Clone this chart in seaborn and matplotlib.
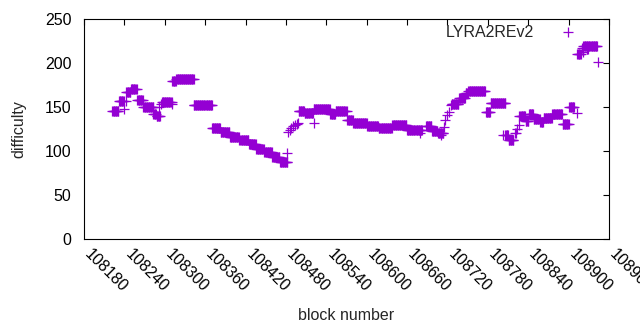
import numpy as np
import pandas as pd
import seaborn as sns
from matplotlib import pyplot as plt
from matplotlib.lines import Line2D

# runs of consecutive blocks sharing one difficulty value
run_start = [108222, 108232, 108243, 108250, 108259, 108268, 108283, 108288,
             108296, 108311, 108317, 108343, 108370, 108383, 108397, 108411,
             108425, 108436, 108448, 108460, 108471, 108499, 108508, 108521,
             108546, 108554, 108571, 108580, 108601, 108618, 108638, 108660,
             108688, 108697, 108706, 108726, 108737, 108747, 108751, 108777,
             108784, 108806, 108811, 108827, 108836, 108841, 108848, 108858,
             108863, 108876, 108891, 108901, 108913, 108922, 108927]
run_end = [108231, 108239, 108249, 108258, 108267, 108283, 108287, 108293,
           108310, 108316, 108343, 108370, 108382, 108396, 108410, 108424,
           108435, 108447, 108459, 108470, 108482, 108507, 108520, 108545,
           108553, 108570, 108579, 108600, 108617, 108637, 108659, 108682,
           108696, 108705, 108714, 108736, 108746, 108750, 108776, 108783,
           108806, 108810, 108818, 108835, 108840, 108847, 108857, 108862,
           108875, 108890, 108900, 108908, 108918, 108942, 108929]
run_value = [145, 156.5, 166.5, 170, 157.5, 149.5, 142.5, 139.5,
             156, 179, 182, 152, 125.8, 121.2, 116.3, 112.5,
             108, 102.6, 98.5, 93.5, 88, 146, 143.5, 147.7,
             142, 146, 135.6, 131.5, 128.4, 125.6, 129.2, 124,
             128.8, 123, 120.5, 153.4, 160, 166, 167.8, 144.3,
             154, 118, 113, 139.8, 134, 142, 136, 133.3,
             137.5, 142, 130.7, 149.7, 209.8, 219.7, 216]

# isolated blocks
single_block = [108240, 108242, 108292, 108294, 108311, 108482, 108483, 108486,
                108488, 108491, 108493, 108496, 108498, 108522, 108679, 108711,
                108715, 108717, 108720, 108723, 108725, 108803, 108820, 108822,
                108824, 108827, 108912, 108920, 108921, 108943]
single_value = [147.7, 156.5, 150, 153, 153, 98, 122, 124,
                126, 128, 129.5, 131, 131.5, 131.5, 120, 118,
                127.6, 135, 141, 144.7, 152, 118, 120.8, 121,
                124.6, 129.5, 143.5, 216.7, 212.9, 200.8]

xticks = list(range(108180, 108961, 60))

blocks, diffs = [], []
for a, b, v in zip(run_start, run_end, run_value):
    for blk in range(a, b + 1):
        blocks.append(blk)
        diffs.append(v)
blocks += single_block
diffs += single_value
df = pd.DataFrame({'block': blocks, 'difficulty': diffs})

sns.set_style('white')
plt.rcParams['font.family'] = ['Liberation Sans', 'DejaVu Sans']
plt.rcParams['font.size'] = 11.5

color = '#9400D3'
fig = plt.figure(figsize=(6.4, 3.3), dpi=100)
ax = fig.add_axes([84 / 640, 1 - 239 / 330, 525 / 640, 220 / 330])

sns.scatterplot(data=df, x='block', y='difficulty', marker='+', color=color,
                s=45, linewidth=0.9, legend=False, ax=ax)

ax.set_xlim(108180, 108960)
ax.set_ylim(0, 250)
ax.set_xticks(xticks)
ax.set_xticklabels([str(t) for t in xticks], rotation=-45, ha='left',
                   va='baseline', rotation_mode='anchor')
ax.set_yticks(range(0, 251, 50))
ax.tick_params(direction='in', length=4, width=0.8, top=True, right=True,
               colors='black', labelcolor='black')
ax.tick_params(axis='x', pad=11.5)
ax.tick_params(axis='y', pad=9)
for sp in ax.spines.values():
    sp.set_color('black')
    sp.set_linewidth(0.8)

ax.set_xlabel('block number')
ax.set_ylabel('difficulty')
ax.xaxis.set_label_coords(0.5, -0.315)
ax.yaxis.set_label_coords(-0.110, 0.5)

h = Line2D([], [], marker='+', color=color, linestyle='none', markersize=6.7,
           markeredgewidth=0.9)
ax.legend([h], ['LYRA2REv2'], loc='upper right', markerfirst=False,
          frameon=False, handlelength=2, handletextpad=1.15, borderpad=0,
          borderaxespad=0, bbox_to_anchor=((584 - 84) / 525, 0.972))

fig.savefig('out.png', dpi=100)
